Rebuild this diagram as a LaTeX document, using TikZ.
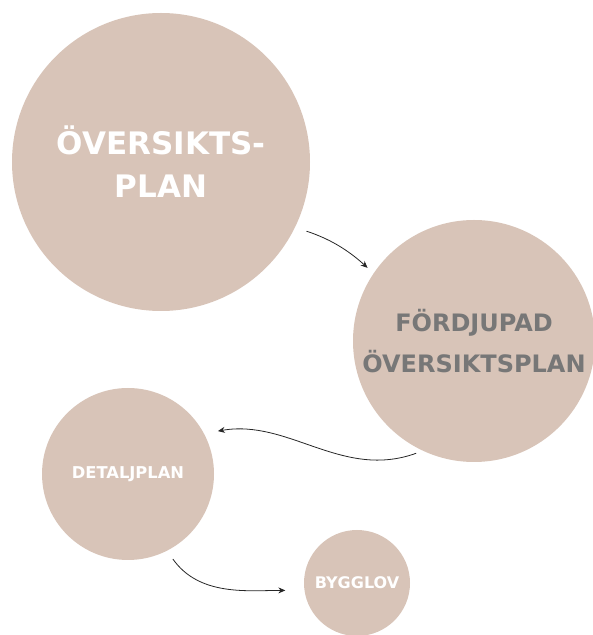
\documentclass[tikz,border=0pt]{standalone}
\usepackage{fontspec}
\newfontfamily\planfont{DejaVu Sans}
\usepackage{xcolor}
\usepackage{tikz}
\usetikzlibrary{arrows.meta,positioning}
\definecolor{sand}{HTML}{D8C4B8}
\definecolor{ink}{HTML}{777777}
\tikzset{
  plan/.style={circle, fill=sand, align=center, inner sep=0pt, text=white},
  arr/.style={-{Stealth[length=7pt,width=6pt]}, draw=black!85, line width=0.8pt}
}

\begin{document}
\begin{tikzpicture}[x=1pt,y=1pt]
			\useasboundingbox (0,0) rectangle (593,635);
			\node (A) [plan,minimum size=298pt,font=\planfont\bfseries\fontsize{31}{43}\selectfont] 
			at (161,473) {ÖVERSIKTS-\\PLAN};
			\node (B) [plan,minimum size=242pt,text=ink,font=\planfont\bfseries\fontsize{24}{41}\selectfont] 
			at (474,294) {FÖRDJUPAD\\ÖVERSIKTSPLAN};
			\node (C) [plan,minimum size=172pt,font=\planfont\bfseries\fontsize{16.3}{20}\selectfont] 
			at (128,161) {DETALJPLAN};
			\node (D) [plan,minimum size=106pt,font=\planfont\bfseries\fontsize{16}{20}\selectfont] 
			at (357,52) {BYGGLOV};
			\draw [arr,shorten <=12pt,shorten >=8pt] (A.-26) to[bend left=12] (B.146);
			\draw [arr,shorten <=7pt,shorten >=14pt] (B.245) to[out=200,in=10] (C.28);
			\draw [arr,shorten <=10pt,shorten >=19pt] (C.-63) to[out=-55,in=180] (D.188);
\end{tikzpicture}
\end{document}
